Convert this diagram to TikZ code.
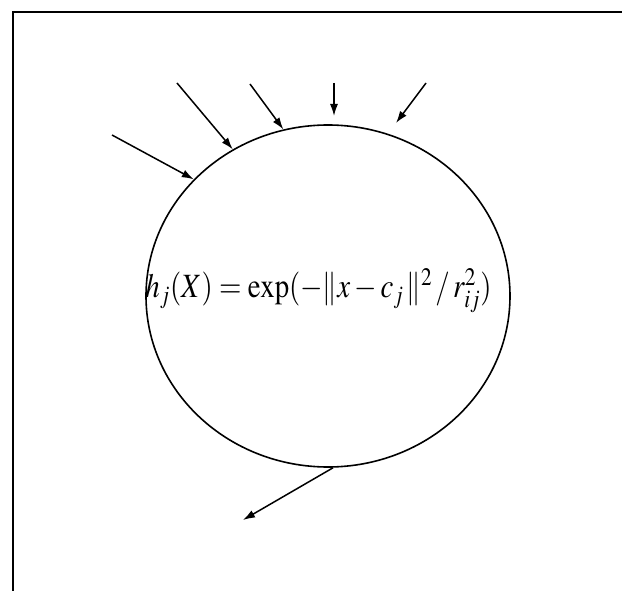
\documentclass[tikz,border=0pt]{standalone}
\usepackage{mathptmx}
\usepackage{graphicx}
\usepackage{fontspec}
\setmainfont{Liberation Serif}
\usetikzlibrary{shapes.geometric,arrows.meta}
\tikzset{
  frame/.style={line width=1.8pt},
  inarrow/.style={line width=1.5pt,-{Latex[length=12pt,width=8pt]}},
}
\begin{document}
\begin{tikzpicture}[x=1pt,y=-1pt]
\useasboundingbox (0,0) rectangle (622,591);
\draw[frame] (622,12) -- (13,12) -- (13,591);
\node[ellipse,draw,line width=1.6pt,minimum width=364pt,minimum height=342pt,inner sep=0pt] (c) at (328,296) {};
\node[anchor=base,inner sep=0pt] (f) at (318.5,298) {\fontsize{34}{40}\selectfont\resizebox{346pt}{\height}{$h_j(X)=\exp(-\|x-c_j\,\|^2\,/\,r_{ij}^2)$}};
\coordinate (s1) at (112,135);
\coordinate (s2) at (177,83);
\coordinate (s3) at (250,84);
\coordinate (s4) at (334,83);
\coordinate (s5) at (426,83);
\coordinate (t4) at (334,116);
\coordinate (t5) at (396,123);
\coordinate (o) at (243,520);
\coordinate (b) at ([xshift=5pt]c.south);
\draw[inarrow] (s1) -- (c.139.8);
\draw[inarrow] (s2) -- (c.123.5);
\draw[inarrow] (s3) -- (c.105.2);
\draw[inarrow] (s4) -- (t4);
\draw[inarrow] (s5) -- (t5);
\draw[inarrow] (b) -- (o);
\end{tikzpicture}
\end{document}
